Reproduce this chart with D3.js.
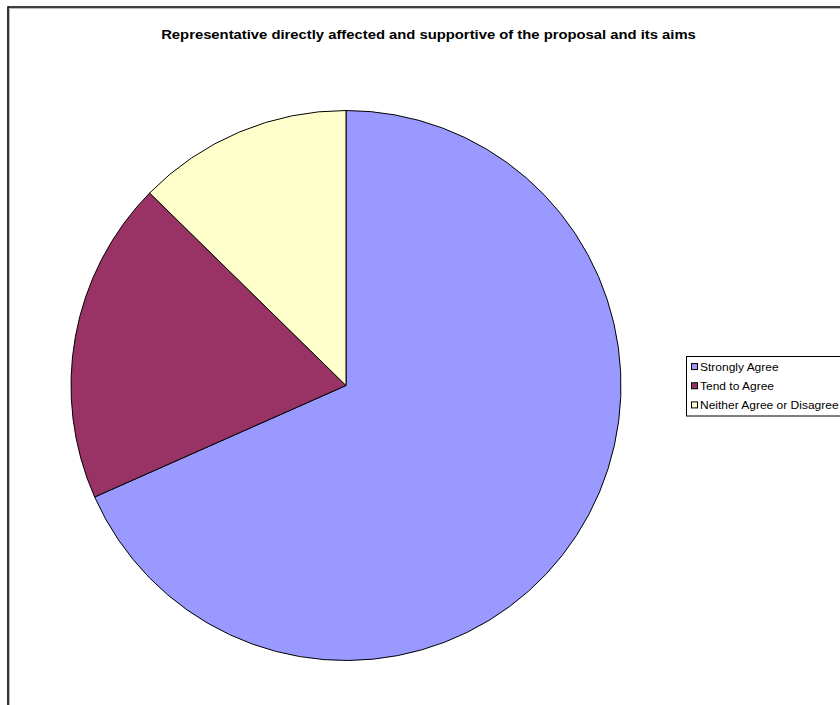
<!DOCTYPE html>
<html>
<head>
<meta charset="utf-8">
<script src="https://cdn.jsdelivr.net/npm/d3@7"></script>
<style>
  html, body { margin: 0; padding: 0; background: #fff; }
  svg { display: block; font-family: "Liberation Sans", Arial, sans-serif; }
</style>
</head>
<body>
<svg id="chart" width="840" height="705"></svg>
<script>
// Survey responses
const categories = ["Strongly Agree", "Tend to Agree", "Neither Agree or Disagree"];
const values = [54, 15, 10];
const colors = ["#9999FF", "#993366", "#FFFFCC"];
const title = "Representative directly affected and supportive of the proposal and its aims";

const svg = d3.select("#chart");
const titleStretch = 1.14;  // fonts are drawn slightly wide
const legendStretch = 1.09;

// Chart frame (left and top edges visible), with a soft grey shadow line
svg.append("path")
  .attr("d", "M9.5,706 V8.5 H841")
  .attr("fill", "none").attr("stroke", "#bbb").attr("stroke-width", 1);
svg.append("path")
  .attr("d", "M8,706 V7 H841")
  .attr("fill", "none").attr("stroke", "#000").attr("stroke-width", 1.6);

// Title
svg.append("text")
  .attr("transform", `translate(428.5,39) scale(${titleStretch},1)`)
  .attr("text-anchor", "middle")
  .attr("font-size", 13).attr("font-weight", "bold")
  .attr("fill", "#000")
  .text(title);

// Pie
const cx = 346, cy = 385.5, r = 275;
const pie = d3.pie().sort(null).value(d => d)(values);
const arc = d3.arc().innerRadius(0).outerRadius(r);

const g = svg.append("g").attr("transform", `translate(${cx},${cy})`);
g.selectAll("path.slice")
  .data(pie)
  .join("path")
  .attr("class", "slice")
  .attr("d", arc)
  .attr("fill", (d, i) => colors[i])
  .attr("stroke", "#000")
  .attr("stroke-width", 1)
  .attr("stroke-linejoin", "round");

// Legend
const lx = 686.5, ly = 356.5, lh = 59.5;
const legend = svg.append("g");
legend.append("rect")
  .attr("x", lx).attr("y", ly)
  .attr("width", 200).attr("height", lh)
  .attr("fill", "#fff").attr("stroke", "#000").attr("stroke-width", 1);

const rowScale = d3.scaleBand().domain(categories).range([ly + 1, ly + lh - 1]);

const rows = legend.selectAll("g.row")
  .data(categories)
  .join("g")
  .attr("class", "row")
  .attr("transform", d => `translate(0,${rowScale(d) + rowScale.bandwidth() / 2})`);

rows.append("rect")
  .attr("x", 691.5).attr("y", -3.5)
  .attr("width", 6).attr("height", 6)
  .attr("fill", (d, i) => colors[i])
  .attr("stroke", "#000").attr("stroke-width", 1);

rows.append("text")
  .attr("transform", `translate(700,4) scale(${legendStretch},1)`)
  .attr("font-size", 11)
  .attr("fill", "#000")
  .text(d => d);
</script>
</body>
</html>
